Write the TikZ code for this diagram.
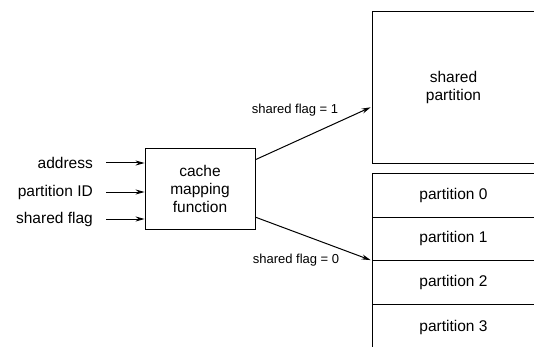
\documentclass[tikz,border=0pt]{standalone}
\usepackage{fontspec}
\setmainfont{Liberation Sans}
\usetikzlibrary{arrows.meta,calc}
\tikzset{
  lbl/.style={inner sep=0pt, font=\fontsize{15.5}{18}\selectfont},
  elbl/.style={inner sep=0pt, font=\fontsize{13}{15}\selectfont},
  mapbox/.style={draw, line width=0.9pt, minimum width=110pt, minimum height=81pt, inner sep=0pt, align=center, font=\fontsize{15.5}{18}\selectfont},
  partbox/.style={draw, line width=0.9pt, minimum width=163pt, inner sep=0pt, align=center, font=\fontsize{15.5}{18}\selectfont},
  arr/.style={-{Stealth[length=9pt,width=5pt]}, line width=1pt},
}
\begin{document}
\begin{tikzpicture}[x=1pt,y=-1pt]
\useasboundingbox (0,0) rectangle (534,347);
\clip (0,0) rectangle (534,347);
% mapping function
\node[mapbox] (map) at (200,188.5) {cache\\mapping\\function};
% inputs
\node[lbl, anchor=east] (addr) at (93,163) {address};
\node[lbl, anchor=east] (pid) at (93,192) {partition ID};
\node[lbl, anchor=east] (sflag) at (93,219) {shared flag};
\draw[arr] ([xshift=13pt]addr.east) -- (addr.east -| map.west);
\draw[arr] ([xshift=13pt]pid.east) -- (pid.east -| map.west);
\draw[arr] ([xshift=13pt]sflag.east) -- (sflag.east -| map.west);
% partitions
\node[partbox, minimum height=152pt] (shared) at (453.5,87) {shared\\partition};
\node[partbox, minimum height=44pt] (p0) at (453.5,195) {partition 0};
\node[partbox, minimum height=43pt] (p1) at (453.5,238.5) {partition 1};
\node[partbox, minimum height=44pt] (p2) at (453.5,282) {partition 2};
\node[partbox, minimum height=46pt] (p3) at (453.5,327) {partition 3};
% routing arrows
\coordinate (s1) at ($(map.north east)!0.148!(map.south east)$);
\coordinate (s0) at ($(map.north east)!0.85!(map.south east)$);
\coordinate (e1) at ($(shared.north west)!0.63!(shared.south west)$);
\draw[arr, shorten >=1pt] (s1) -- (e1);
\draw[arr, shorten >=1pt] (s0) -- (p1.south west);
\node[elbl] (l1) at (295,110) {shared flag = 1};
\node[elbl] (l0) at (296,260) {shared flag = 0};
\end{tikzpicture}
\end{document}
